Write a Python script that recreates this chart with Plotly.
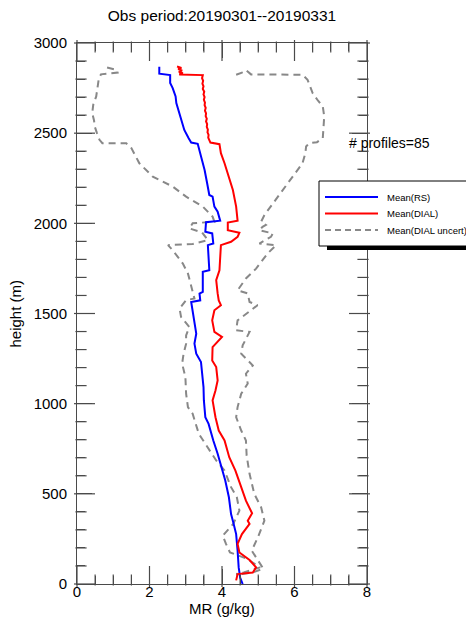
import plotly.graph_objects as go

# Mean mixing-ratio profiles, radiosonde vs. DIAL, March 2019
rs_height = [2868, 2830, 2822, 2778, 2750, 2704, 2667, 2611, 2555, 2518, 2472, 2448, 2441,
             2370, 2296, 2222, 2185, 2157, 2148, 2093, 2065, 2015, 2006, 1953, 1944, 1888,
             1879, 1740, 1731, 1620, 1611, 1573, 1564, 1518, 1444, 1388, 1333, 1277, 1231,
             1166, 1092, 1018, 925, 888, 833, 796, 722, 648, 574, 481, 388, 342, 277, 185,
             92, 36, 0]
rs_mr = [2.27, 2.27, 2.57, 2.57, 2.64, 2.72, 2.74, 2.83, 2.90, 2.96, 3.08, 3.15, 3.33,
         3.42, 3.52, 3.59, 3.63, 3.65, 3.74, 3.79, 3.88, 3.95, 3.56, 3.54, 3.73, 3.76,
         3.61, 3.65, 3.47, 3.47, 3.38, 3.40, 3.15, 3.19, 3.24, 3.29, 3.24, 3.29, 3.42,
         3.45, 3.49, 3.50, 3.54, 3.63, 3.70, 3.76, 3.88, 3.99, 4.09, 4.19, 4.25, 4.31, 4.39,
         4.43, 4.46, 4.50, 4.57]

dial_height = [2870, 2862, 2855, 2848, 2840, 2832, 2826, 2822, 2805, 2790, 2775, 2760, 2745,
               2730, 2715, 2700, 2685, 2670, 2655, 2640, 2625, 2610, 2595, 2580, 2565, 2550,
               2535, 2520, 2505, 2490, 2475, 2460, 2448, 2439, 2389, 2333, 2259, 2185, 2093,
               2015, 2004, 1962, 1948, 1925, 1898, 1879, 1740, 1685, 1611, 1573, 1546, 1518,
               1462, 1398, 1370, 1342, 1314, 1240, 1203, 1129, 1073, 1018, 925, 851, 796, 703,
               629, 537, 462, 392, 351, 333, 277, 222, 175, 133, 92, 64, 55, 20]
dial_mr = [2.76, 2.88, 2.79, 2.90, 2.81, 2.92, 2.82, 3.47, 3.45, 3.48, 3.46, 3.49, 3.47,
           3.51, 3.49, 3.52, 3.50, 3.53, 3.52, 3.55, 3.53, 3.56, 3.55, 3.58, 3.56, 3.59,
           3.58, 3.61, 3.60, 3.63, 3.62, 3.65, 3.68, 3.93, 3.97, 4.07, 4.19, 4.30, 4.39,
           4.43, 4.16, 4.16, 4.48, 4.43, 4.25, 3.97, 3.93, 3.84, 3.88, 3.91, 3.97, 3.79,
           3.73, 3.79, 4.00, 3.88, 3.74, 3.73, 3.84, 3.88, 3.82, 3.74, 3.82, 3.91, 4.07, 4.20,
           4.37, 4.53, 4.66, 4.83, 4.71, 4.76, 4.55, 4.43, 4.48, 4.76, 4.94, 4.85, 4.43, 4.39]

# DIAL uncertainty envelope (lower and upper bounds)
unc_lo_height = [2864, 2850, 2836, 2826, 2800, 2778, 2740, 2704, 2660, 2611, 2570, 2537, 2500,
                 2463, 2444, 2444, 2417, 2333, 2259, 2204, 2148, 2093, 2037, 2009, 2000, 1972,
                 1950, 1907, 1885, 1879, 1851, 1777, 1722, 1629, 1583, 1574, 1527, 1481, 1425,
                 1379, 1333, 1277, 1222, 1148, 1055, 981, 944, 833, 759, 685, 629, 537, 481,
                 407, 333, 268, 222, 175, 140, 112, 92, 64, 55]
unc_lo_mr = [0.83, 1.10, 1.12, 0.66, 0.60, 0.58, 0.55, 0.53, 0.45, 0.42, 0.47, 0.49, 0.55,
             0.62, 0.70, 1.36, 1.50, 1.72, 2.09, 2.64, 3.01, 3.47, 3.74, 3.79, 3.19, 3.10,
             3.45, 3.61, 3.19, 2.51, 2.64, 2.92, 3.06, 3.18, 3.24, 3.01, 2.83, 2.87, 3.10,
             3.01, 3.01, 2.94, 2.90, 2.99, 3.01, 3.06, 3.19, 3.36, 3.61, 3.84, 4.07, 4.25, 4.41,
             4.48, 4.31, 4.02, 4.11, 4.22, 4.69, 4.92, 5.05, 4.60, 4.39]

unc_hi_height = [2824, 2836, 2850, 2840, 2826, 2824, 2796, 2760, 2722, 2680, 2648, 2593, 2530,
                 2472, 2450, 2444, 2426, 2389, 2333, 2259, 2185, 2111, 2046, 2009, 1991, 1981,
                 1962, 1944, 1925, 1888, 1879, 1833, 1749, 1694, 1629, 1611, 1564, 1546, 1462,
                 1407, 1398, 1323, 1277, 1212, 1166, 1111, 1055, 981, 925, 851, 796, 712, 611,
                 500, 425, 351, 259, 185, 148, 85, 64, 55, 51]
unc_hi_mr = [4.39, 4.55, 4.66, 4.72, 4.80, 6.22, 6.36, 6.43, 6.50, 6.65, 6.78, 6.82, 6.80,
             6.78, 6.62, 6.40, 6.32, 6.30, 6.22, 5.95, 5.67, 5.40, 5.17, 5.08, 5.21, 5.12,
             5.03, 5.40, 5.35, 5.03, 5.49, 5.26, 4.94, 4.66, 4.43, 4.71, 4.76, 4.98, 4.43,
             4.39, 4.76, 4.57, 4.53, 4.85, 4.66, 4.71, 4.53, 4.43, 4.39, 4.53, 4.66, 4.68, 4.76,
             4.89, 5.08, 5.17, 4.99, 4.82, 4.94, 5.14, 4.85, 4.60, 4.39]

# axis tick values
x_major = [0, 2, 4, 6, 8]
x_minor = [0.5, 1, 1.5, 2.5, 3, 3.5, 4.5, 5, 5.5, 6.5, 7, 7.5]
y_major = [0, 500, 1000, 1500, 2000, 2500, 3000]
y_minor = [h for h in range(100, 3000, 100) if h % 500]

legend_names = ["Mean(RS)", "Mean(DIAL)", "Mean(DIAL uncert)"]
n_profiles = 85
title_text = "Obs period:20190301--20190331"

FONT = "Liberation Sans, Arial, Helvetica, sans-serif"
AX = "#4a4a4a"
GRAY = "#888888"

# plot-area geometry in pixels
W, H = 466, 620
L, R, T, B = 77, 99, 43, 36
pw, ph = W - L - R, H - T - B
X0, X1, Y0, Y1 = 0, 8, 0, 3000
MAJ, MIN = 15, 8  # tick lengths in px
dx_px = (X1 - X0) / pw
dy_px = (Y1 - Y0) / ph

fig = go.Figure()
fig.add_trace(go.Scatter(x=unc_lo_mr, y=unc_lo_height, mode="lines", name=legend_names[2],
                         line=dict(color=GRAY, width=2, dash="7px,5px"), showlegend=False))
fig.add_trace(go.Scatter(x=unc_hi_mr, y=unc_hi_height, mode="lines", name=legend_names[2],
                         line=dict(color=GRAY, width=2, dash="7px,5px"), showlegend=False))
fig.add_trace(go.Scatter(x=rs_mr, y=rs_height, mode="lines", name=legend_names[0],
                         line=dict(color="#0000ff", width=2), showlegend=False))
fig.add_trace(go.Scatter(x=dial_mr, y=dial_height, mode="lines", name=legend_names[1],
                         line=dict(color="#ff0000", width=2), showlegend=False))

# inward tick marks as line-shaped markers, centred half a tick length inside each edge
for vals, ln in ((x_major, MAJ), (x_minor, MIN)):
    half = ln / 2 * dy_px
    fig.add_trace(go.Scatter(
        x=vals + vals, y=[Y0 + half] * len(vals) + [Y1 - half] * len(vals),
        mode="markers", hoverinfo="skip", showlegend=False, cliponaxis=False,
        marker=dict(symbol="line-ns", size=ln, color=AX, line=dict(color=AX, width=1.2))))
for vals, ln in ((y_major, MAJ), (y_minor, MIN)):
    half = ln / 2 * dx_px
    fig.add_trace(go.Scatter(
        x=[X0 + half] * len(vals) + [X1 - half] * len(vals), y=vals + vals,
        mode="markers", hoverinfo="skip", showlegend=False, cliponaxis=False,
        marker=dict(symbol="line-ew", size=ln, color=AX, line=dict(color=AX, width=1.2))))


def px(x):
    return (x - L) / pw


def py(y):
    return (H - B - y) / ph


shapes = [
    # legend shadow and box
    dict(type="rect", xref="paper", yref="paper", x0=px(327), x1=px(480), y0=py(250), y1=py(188),
         fillcolor="black", line=dict(width=0), layer="above"),
    dict(type="rect", xref="paper", yref="paper", x0=px(319), x1=px(480), y0=py(246), y1=py(181),
         fillcolor="white", line=dict(color="black", width=1), layer="above"),
]
legend_rows = [(197, "#0000ff", "solid"), (213.5, "#ff0000", "solid"), (230, GRAY, "6px,4px")]
annotations = []
for (yy, col, dash), name in zip(legend_rows, legend_names):
    shapes.append(dict(type="line", xref="paper", yref="paper", x0=px(325), x1=px(378),
                       y0=py(yy), y1=py(yy), line=dict(color=col, width=2, dash=dash),
                       layer="above"))
    annotations.append(dict(text=name, xref="paper", yref="paper", x=px(385), y=py(yy),
                            xanchor="left", yanchor="middle", showarrow=False,
                            font=dict(size=9.5, color="black", family=FONT)))

annotations.append(dict(text=f"# profiles={n_profiles}", xref="paper", yref="paper",
                        x=px(347), y=py(143), xanchor="left", yanchor="middle",
                        showarrow=False, font=dict(size=14, color="black", family=FONT)))
annotations.append(dict(text="height (m)", xref="paper", yref="paper", x=px(15), y=0.5,
                        xanchor="center", yanchor="middle", textangle=-90, showarrow=False,
                        font=dict(size=15, color="black", family=FONT)))
annotations.append(dict(text="MR (g/kg)", xref="paper", yref="paper", x=0.5, y=py(608),
                        xanchor="center", yanchor="middle", showarrow=False,
                        font=dict(size=15, color="black", family=FONT)))

axis_common = dict(showgrid=False, zeroline=False, showline=True, linecolor=AX, linewidth=1,
                   mirror="ticks", ticks="inside", ticklen=MAJ, tickwidth=1, tickcolor=AX,
                   tickfont=dict(size=15, color="black", family=FONT))

fig.update_layout(
    width=W, height=H,
    margin=dict(l=L, r=R, t=T, b=B, autoexpand=False),
    paper_bgcolor="white", plot_bgcolor="white",
    title=dict(text=title_text, x=0.5, xref="paper", y=1 - 16 / H, yref="container",
               xanchor="center", yanchor="middle",
               font=dict(size=15.5, color="black", family=FONT)),
    xaxis=dict(range=[X0, X1], tickvals=x_major, ticklabelstandoff=-6,
               minor=dict(tickvals=x_minor, ticks="inside", ticklen=MIN, tickcolor=AX),
               **axis_common),
    yaxis=dict(range=[Y0, Y1], tickvals=y_major, ticklabelstandoff=6,
               minor=dict(tickvals=y_minor, ticks="inside", ticklen=MIN, tickcolor=AX),
               **axis_common),
    shapes=shapes,
    annotations=annotations,
    showlegend=False,
)

fig.write_html("out.html", config={"displayModeBar": False})
